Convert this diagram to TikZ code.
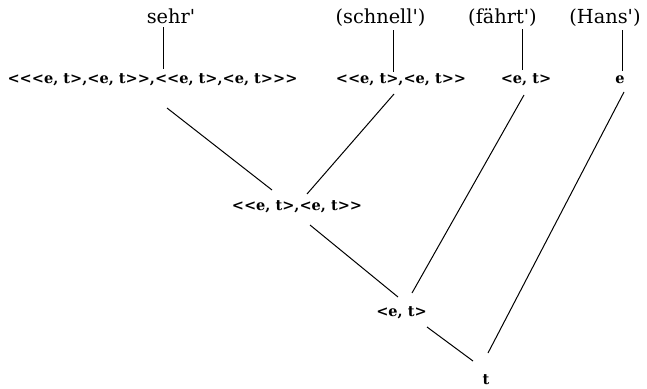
\documentclass[tikz,border=0pt]{standalone}
\usepackage{fontspec}
\setmainfont{DejaVu Serif}
\newfontfamily\typefont{DejaVu Serif}
\usetikzlibrary{calc}

\tikzset{every picture/.style={line width=0.75pt}}
\tikzset{
  word/.style={anchor=base,inner sep=0.75pt,font=\fontsize{14.5}{16}\selectfont},
  semtype/.style={anchor=base,inner sep=0.75pt,font=\typefont\fontsize{10.9}{12}\selectfont\bfseries}
}
\newcommand{\qs}{\textquotesingle}

\begin{document}
\begin{tikzpicture}[x=0.75pt,y=0.75pt,yscale=-1,xscale=1]
\useasboundingbox (0,0) rectangle (647,389);

% Text Node
\node[word] (sehr) at (171,23.5) {sehr\qs};
% Text Node
\node[word] (schnell) at (380.5,23.5) {(schnell\qs)};
% Text Node
\node[word] (faehrt) at (502.5,23.5) {(fährt\qs)};
% Text Node
\node[word] (hans) at (605,23.5) {(Hans\qs)};

% Text Node
\node[semtype] (adv) at (152.5,84) {<<<e, t>,<e, t>>,<<e, t>,<e, t>>>};
% Text Node
\node[semtype] (mod) at (401,84) {<<e, t>,<e, t>>};
% Text Node
\node[semtype] (verb) at (526,84) {<e, t>};
% Text Node
\node[semtype] (subj) at (620,84) {e};
% Text Node
\node[semtype] (modmod) at (297,210) {<<e, t>,<e, t>>};
% Text Node
\node[semtype] (vp) at (401.5,316.5) {<e, t>};
% Text Node
\node[semtype] (sent) at (486,384) {t};

%Straight Lines
\draw ($(sehr.base)+(-8,3.5)$) -- ($(adv.base)+(10.5,-15)$);
\draw ($(schnell.base)+(13,6.5)$) -- ($(mod.base)+(-7.5,-12)$);
\draw ($(faehrt.base)+(19.5,5.5)$) -- ($(verb.base)+(-4,-14)$);
\draw ($(hans.base)+(17,6.5)$) -- ($(subj.base)+(2,-13)$);

%Straight Lines
\draw ($(adv.base)+(14.5,24)$) -- ($(modmod.base)+(-25,-20)$);
\draw ($(mod.base)+(-7,10)$) -- ($(modmod.base)+(10,-16)$);
\draw ($(modmod.base)+(13,15)$) -- ($(vp.base)+(-3.5,-19.5)$);
\draw ($(verb.base)+(-2,11)$) -- ($(vp.base)+(10.5,-23.5)$);
\draw ($(vp.base)+(25.5,10.5)$) -- ($(sent.base)+(-13,-23)$);
\draw ($(subj.base)+(4,8)$) -- ($(sent.base)+(2,-31)$);
\end{tikzpicture}
\end{document}
